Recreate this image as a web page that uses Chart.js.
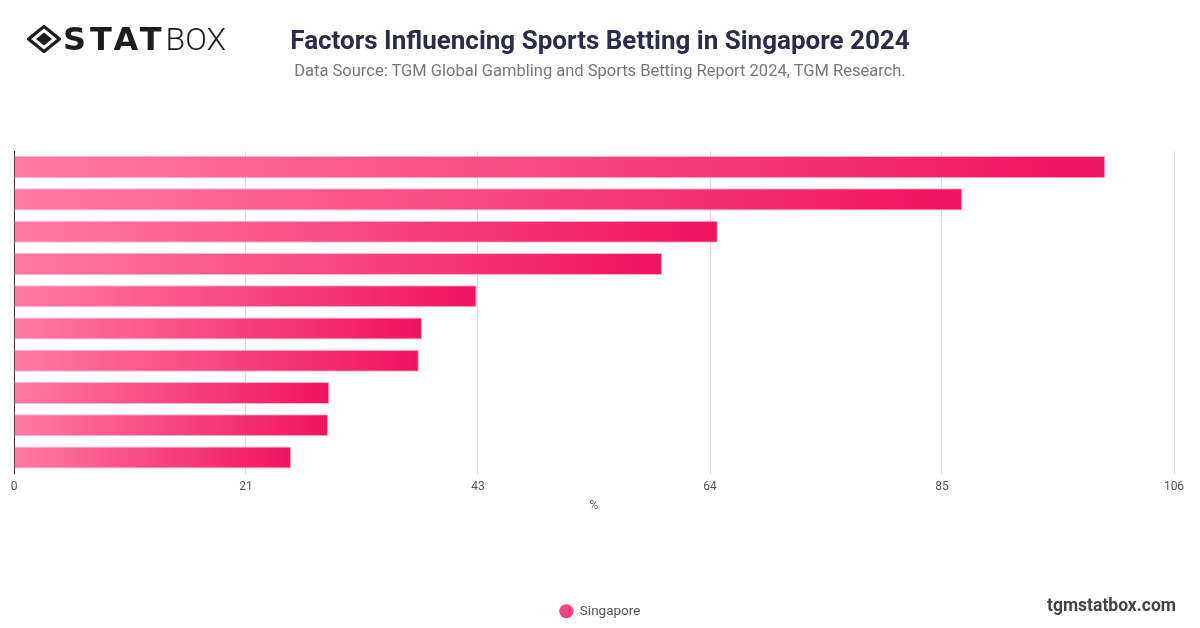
<!DOCTYPE html>
<html>
<head>
<meta charset="utf-8">
<script src="https://cdn.jsdelivr.net/npm/chart.js@4.4.1/dist/chart.umd.min.js"></script>
<style>
  html, body { margin: 0; padding: 0; background: #fff; }
  body { width: 1200px; height: 628px; position: relative; overflow: hidden; font-family: Roboto, "Noto Sans", sans-serif; }
  #wrap { position: absolute; left: 0; top: 0; width: 1200px; height: 628px; }
  .logo { position: absolute; left: 27px; top: 21px; display: flex; align-items: center; height: 36px; }
  .logo svg { display: block; }
  .logo .stat { font-family: "DejaVu Sans", sans-serif; font-weight: 700; font-size: 32px; color: #1d1d1f; letter-spacing: 4px; margin-left: 2px; }
  .logo .box { font-family: Roboto, sans-serif; font-weight: 300; font-size: 32px; color: #1d1d1f; }
  h1 { position: absolute; left: 0; width: 1200px; top: 25px; margin: 0; text-align: center; font-family: Roboto, sans-serif; font-weight: 700; font-size: 26px; color: #2d2b4a; }
  .sub { position: absolute; left: 0; width: 1200px; top: 61px; text-align: center; font-size: 16.5px; color: #777; }
  .site { position: absolute; right: 24px; top: 595px; font-weight: 700; font-size: 17.5px; color: #444; }
</style>
</head>
<body>
<div id="wrap"><canvas id="barChart"></canvas></div>
<div class="logo">
  <svg width="34" height="28" viewBox="0 0 34 28">
    <path d="M17 1.5 L32.5 14 L17 26.5 L1.5 14 Z" fill="none" stroke="#1d1d1f" stroke-width="3.2" stroke-linejoin="round"/>
    <path d="M17 7.5 L25 14 L17 20.5 L9 14 Z" fill="#1d1d1f"/>
  </svg>
  <span class="stat">STAT</span><span class="box">BOX</span>
</div>
<h1>Factors Influencing Sports Betting in Singapore 2024</h1>
<div class="sub">Data Source: TGM Global Gambling and Sports Betting Report 2024, TGM Research.</div>
<div class="site">tgmstatbox.com</div>
<script>
// categories are not printed on the chart, so generic names
const factors = ["Factor 1", "Factor 2", "Factor 3", "Factor 4", "Factor 5",
                 "Factor 6", "Factor 7", "Factor 8", "Factor 9", "Factor 10"];
// share of respondents (%)
const singapore = [100, 86.9, 64.5, 59.4, 42.4, 37.4, 37.1, 28.9, 28.8, 25.4];
// x axis
const xMin = 0;
const xMax = 106.3;
const xStep = 21.26;

function barFill(ctx) {
  const chart = ctx.chart;
  if (!chart.chartArea || ctx.raw === undefined) return "#f5437f";
  const x = chart.scales.x;
  const g = chart.ctx.createLinearGradient(x.getPixelForValue(0), 0, x.getPixelForValue(ctx.raw), 0);
  g.addColorStop(0, "#ff7aa4");
  g.addColorStop(1, "#f0135f");
  return g;
}

new Chart(document.getElementById("barChart"), {
  type: "bar",
  data: {
    labels: factors,
    datasets: [{
      label: "Singapore",
      data: singapore,
      backgroundColor: barFill,
      borderColor: "#ffb4cb",
      borderWidth: 1,
      barPercentage: 0.9,
      categoryPercentage: 0.76
    }]
  },
  options: {
    indexAxis: "y",
    responsive: true,
    maintainAspectRatio: false,
    animation: false,
    layout: { padding: { top: 151, left: 0, right: 0, bottom: 0 } },
    scales: {
      x: {
        min: xMin,
        max: xMax,
        ticks: {
          stepSize: xStep,
          padding: 6,
          color: "#555",
          font: { family: "Roboto", size: 12 },
          callback: v => Math.round(v)
        },
        grid: { color: "#dedede", drawTicks: false },
        border: { display: false },
        title: {
          display: true,
          text: "%",
          color: "#666",
          font: { family: "Roboto", size: 12 },
          padding: { top: -1, bottom: 81 }
        }
      },
      y: {
        ticks: { display: false },
        grid: { display: false, drawTicks: false },
        border: { display: true, color: "#333", width: 1 },
        afterFit: s => { s.width = 14; }
      },
      // empty right-hand spacer so the legend stays centred on the page
      yRight: {
        position: "right",
        ticks: { display: false },
        grid: { display: false, drawTicks: false },
        border: { display: false },
        afterFit: s => { s.width = 26; }
      }
    },
    plugins: {
      legend: {
        position: "bottom",
        labels: {
          usePointStyle: true,
          pointStyle: "circle",
          boxWidth: 14,
          boxHeight: 10,
          padding: 10,
          color: "#555",
          font: { family: "Roboto", size: 13.5 },
          generateLabels: chart => [{
            text: "Singapore",
            fillStyle: "#f5437f",
            strokeStyle: "#f5437f",
            lineWidth: 0,
            pointStyle: "circle",
            fontColor: "#555",
            datasetIndex: 0
          }]
        }
      },
      tooltip: { enabled: false }
    }
  }
});
</script>
</body>
</html>
